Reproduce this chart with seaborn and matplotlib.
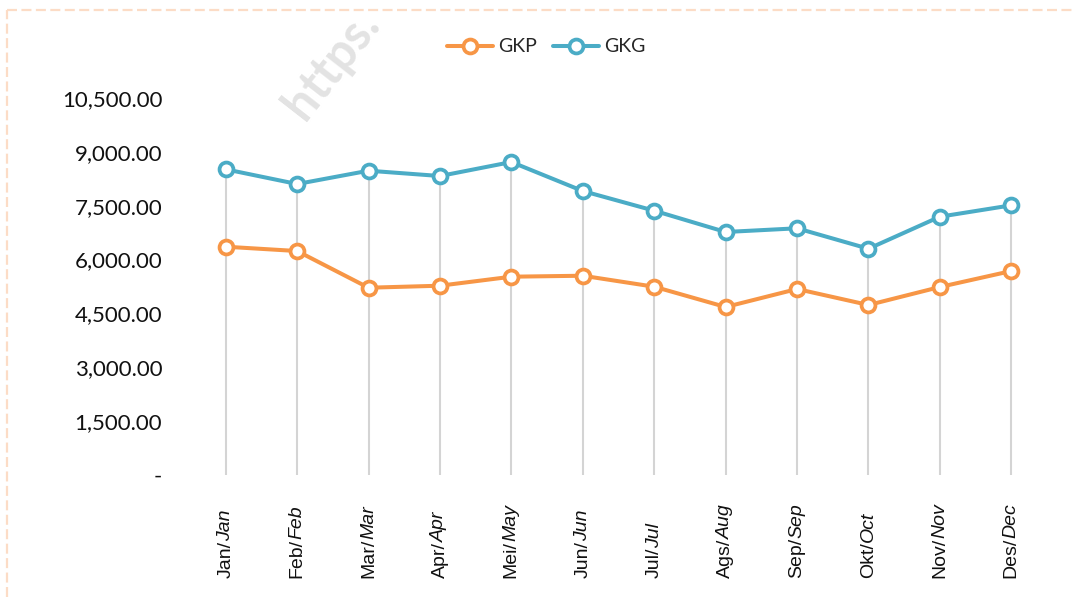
import numpy as np
import pandas as pd
import matplotlib
matplotlib.use("Agg")
import matplotlib.pyplot as plt
import seaborn as sns
from matplotlib.lines import Line2D
from matplotlib.ticker import FuncFormatter

# data
months_id = ['Jan/', 'Feb/', 'Mar/', 'Apr/', 'Mei/', 'Jun/',
             'Jul/', 'Ags/', 'Sep/', 'Okt/', 'Nov/', 'Des/']
months_en = ['Jan', 'Feb', 'Mar', 'Apr', 'May', 'Jun',
             'Jul', 'Aug', 'Sep', 'Oct', 'Nov', 'Dec']
gkp = [6358, 6238, 5216, 5272, 5523, 5550, 5244, 4679, 5180, 4735, 5236, 5681]
gkg = [8514, 8104, 8475, 8327, 8717, 7909, 7361, 6768, 6871, 6302, 7194, 7511]
yticks = [0, 1500, 3000, 4500, 6000, 7500, 9000, 10500]

ORANGE = '#F79646'
BLUE = '#4BACC6'

df = pd.DataFrame({'bulan': [a + b for a, b in zip(months_id, months_en)],
                   'GKP': gkp, 'GKG': gkg})

sns.set_style('white')
plt.rcParams['font.family'] = ['Lato', 'DejaVu Sans']

fig = plt.figure(figsize=(10.72, 5.97), dpi=100)
ax = fig.add_axes([190 / 1072, 122 / 597, 857 / 1072, 377 / 597])

pos = np.arange(len(months_id))

# garis vertikal dari 0 ke titik tertinggi
ax.vlines(pos, 0, np.maximum(gkp, gkg), color='#d4d4d4', lw=1.5, zorder=1)

sns.lineplot(x=pos, y=df['GKP'], ax=ax, color=ORANGE, lw=2.9, marker='o',
             markersize=10, mfc='white', mec=ORANGE, mew=2.7, label='GKP', zorder=3)
sns.lineplot(x=pos, y=df['GKG'], ax=ax, color=BLUE, lw=2.9, marker='o',
             markersize=10, mfc='white', mec=BLUE, mew=2.7, label='GKG', zorder=3)

ax.set_xlim(-0.5, len(months_id) - 0.5)
ax.set_ylim(0, 10500)
ax.set_yticks(yticks)
ax.yaxis.set_major_formatter(FuncFormatter(lambda v, p: '-' if v == 0 else f'{v:,.2f}'))
ax.tick_params(axis='y', length=0, pad=20, labelsize=16, labelcolor='#111111')
ax.set_xticks(pos)
ax.set_xticklabels([])
ax.tick_params(axis='x', length=0)
ax.set_xlabel('')
ax.set_ylabel('')
for s in ax.spines.values():
    s.set_visible(False)

# label bulan: bagian Indonesia biasa, bagian Inggris miring
trans = ax.get_xaxis_transform()
for i in pos:
    t1 = ax.text(i, -0.272, months_id[i], transform=trans, rotation=90,
                 ha='center', va='bottom', fontsize=14,
                 family='Liberation Sans', color='#111111')
    ax.annotate(months_en[i], xy=(0.5, 1.0), xycoords=t1, xytext=(0, -0.5),
                textcoords='offset points', rotation=90,
                ha='center', va='bottom', fontsize=14, style='italic',
                family='Liberation Sans', color='#111111')

handles, labels = ax.get_legend_handles_labels()
ax.get_legend().remove()
fig.legend(handles, labels, loc='center', bbox_to_anchor=(546 / 1072, 550 / 597),
           ncol=2, frameon=False, fontsize=14, handlelength=2.4,
           columnspacing=0.8, handletextpad=0.25)

# watermark
fig.text(305 / 1072, (597 - 122) / 597, 'https.', rotation=52, rotation_mode='anchor',
         ha='left', va='baseline', fontsize=35, fontweight='bold', color='#e3e3e3', zorder=0)

# bingkai putus-putus
border = dict(color='#fcdcc6', lw=1.6, ls=(0, (4.5, 2)), transform=fig.transFigure)
fig.add_artist(Line2D([7 / 1072, 1.0], [1 - 9.5 / 597] * 2, **border))
fig.add_artist(Line2D([7 / 1072] * 2, [0.0, 1 - 9.5 / 597], **border))

fig.savefig('out.png', dpi=100)
